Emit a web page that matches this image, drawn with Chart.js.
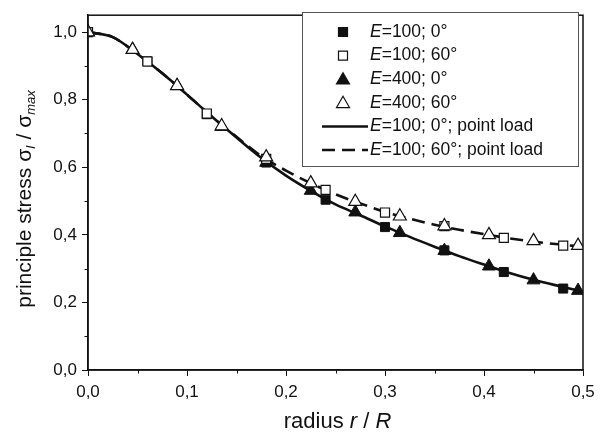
<!DOCTYPE html>
<html>
<head>
<meta charset="utf-8">
<script src="https://cdn.jsdelivr.net/npm/chart.js@4.4.0/dist/chart.umd.min.js"></script>
<style>
  html, body { margin: 0; padding: 0; background: #fff; }
  #stressChart { display: block; }
</style>
</head>
<body>
<canvas id="stressChart" width="606" height="435"></canvas>
<script>
// Data (radius r/R -> normalised principal stress)
const squareX = [0, 0.06, 0.12, 0.18, 0.24, 0.30, 0.36, 0.42, 0.48];
const e100deg0 = [1.0, 0.913, 0.757, 0.614, 0.504, 0.423, 0.354, 0.290, 0.241];
const e100deg60 = [1.0, 0.913, 0.759, 0.625, 0.533, 0.466, 0.426, 0.391, 0.368];

const triangleX = [0, 0.045, 0.09, 0.135, 0.18, 0.225, 0.27, 0.315, 0.36, 0.405, 0.45, 0.495];
const e400deg0 = [1.0, 0.948, 0.841, 0.720, 0.614, 0.531, 0.467, 0.406, 0.353, 0.307, 0.266, 0.235];
const e400deg60 = [1.0, 0.948, 0.841, 0.722, 0.630, 0.553, 0.498, 0.455, 0.426, 0.400, 0.382, 0.368];

const curveX = [0, 0.025, 0.05, 0.075, 0.1, 0.125, 0.15, 0.175, 0.2, 0.225, 0.25, 0.275, 0.3, 0.325, 0.35, 0.375, 0.4, 0.425, 0.45, 0.475, 0.5];
const pointLoad0 = [1.0, 0.985, 0.935, 0.878, 0.815, 0.750, 0.688, 0.628, 0.575, 0.530, 0.490, 0.458, 0.425, 0.394, 0.365, 0.337, 0.312, 0.288, 0.267, 0.249, 0.232];
const pointLoad60 = [1.0, 0.985, 0.935, 0.878, 0.815, 0.750, 0.690, 0.633, 0.590, 0.553, 0.520, 0.493, 0.468, 0.448, 0.430, 0.415, 0.402, 0.390, 0.380, 0.372, 0.365];

const xMinorTicks = [0.05, 0.15, 0.25, 0.35, 0.45];
const yMinorTicks = [0.1, 0.3, 0.5, 0.7, 0.9];

const INK = "#111";
const FONT = "Liberation Sans, Arial, Helvetica, sans-serif";

function toPoints(xs, ys) {
  return xs.map((x, i) => ({ x: x, y: ys[i] }));
}

function commaLabel(v) {
  return Number(v).toFixed(1).replace(".", ",");
}

// Legend rows, the "E" in front is drawn in italics
const legendRows = [
  { label: "=100; 0°", kind: "rect", fill: INK },
  { label: "=100; 60°", kind: "rect", fill: "#fff" },
  { label: "=400; 0°", kind: "triangle", fill: INK },
  { label: "=400; 60°", kind: "triangle", fill: "#fff" },
  { label: "=100; 0°; point load", kind: "solid" },
  { label: "=100; 60°; point load", kind: "dashed" }
];

// Draw a mixed-style text run, pieces = [{t, italic, sub}]
function drawRich(ctx, pieces, x, y, size, align) {
  const widths = pieces.map(p => {
    ctx.font = (p.italic ? "italic " : "") + (p.sub ? size * 0.62 : size) + "px " + FONT;
    return ctx.measureText(p.t).width;
  });
  const total = widths.reduce((a, b) => a + b, 0);
  let cx = align === "center" ? x - total / 2 : x;
  ctx.textBaseline = "middle";
  ctx.textAlign = "left";
  pieces.forEach((p, i) => {
    ctx.font = (p.italic ? "italic " : "") + (p.sub ? size * 0.62 : size) + "px " + FONT;
    ctx.fillText(p.t, cx, p.sub ? y + size * 0.3 : y);
    cx += widths[i];
  });
}

function drawMarker(ctx, kind, x, y, fill) {
  ctx.save();
  ctx.fillStyle = fill;
  ctx.strokeStyle = INK;
  ctx.lineWidth = 1.2;
  ctx.beginPath();
  if (kind === "rect") {
    const s = 4.5;
    ctx.rect(x - s, y - s, 2 * s, 2 * s);
  } else {
    const r = 7.5;
    ctx.moveTo(x, y - r);
    ctx.lineTo(x + Math.sin(2 * Math.PI / 3) * r, y - Math.cos(2 * Math.PI / 3) * r);
    ctx.lineTo(x + Math.sin(4 * Math.PI / 3) * r, y - Math.cos(4 * Math.PI / 3) * r);
    ctx.closePath();
  }
  ctx.fill();
  ctx.stroke();
  ctx.restore();
}

const decorPlugin = {
  id: "decor",
  afterDraw(chart) {
    const ctx = chart.ctx;
    const area = chart.chartArea;
    const xs = chart.scales.x;
    const ys = chart.scales.y;
    ctx.save();

    // frame on top and right
    ctx.strokeStyle = INK;
    ctx.lineWidth = 1.5;
    ctx.strokeRect(area.left, area.top, area.right - area.left, area.bottom - area.top);

    // minor ticks
    ctx.lineWidth = 1;
    ctx.beginPath();
    xMinorTicks.forEach(v => {
      const px = Math.round(xs.getPixelForValue(v)) + 0.5;
      ctx.moveTo(px, area.bottom);
      ctx.lineTo(px, area.bottom + 3.5);
    });
    yMinorTicks.forEach(v => {
      const py = Math.round(ys.getPixelForValue(v)) + 0.5;
      ctx.moveTo(area.left, py);
      ctx.lineTo(area.left - 3.5, py);
    });
    ctx.stroke();

    // axis titles
    ctx.fillStyle = INK;
    drawRich(ctx, [
      { t: "radius " }, { t: "r", italic: true }, { t: " / " }, { t: "R", italic: true }
    ], (area.left + area.right) / 2 + 2, 422, 22, "center");

    ctx.save();
    ctx.translate(25, 199);
    ctx.rotate(-Math.PI / 2);
    drawRich(ctx, [
      { t: "principle stress σ" }, { t: "I", italic: true, sub: true },
      { t: " / σ" }, { t: "max", italic: true, sub: true }
    ], 0, 0, 21, "center");
    ctx.restore();

    // legend box
    const bx = 302, by = 12, bw = 276, bh = 154;
    ctx.fillStyle = "#fff";
    ctx.fillRect(bx, by, bw, bh);
    ctx.strokeStyle = "#555";
    ctx.lineWidth = 1;
    ctx.strokeRect(bx + 0.5, by + 0.5, bw, bh);

    legendRows.forEach((row, i) => {
      const y = 32 + i * 23.6;
      if (row.kind === "rect" || row.kind === "triangle") {
        drawMarker(ctx, row.kind, 343, y + (row.kind === "triangle" ? 1 : 0), row.fill);
      } else {
        ctx.save();
        ctx.strokeStyle = INK;
        ctx.lineWidth = 2.5;
        if (row.kind === "dashed") ctx.setLineDash([13, 7]);
        ctx.beginPath();
        ctx.moveTo(322, y);
        ctx.lineTo(368, y);
        ctx.stroke();
        ctx.restore();
      }
      ctx.fillStyle = INK;
      drawRich(ctx, [{ t: "E", italic: true }, { t: row.label }], 370, y, 17.5, "left");
    });

    ctx.restore();
  }
};

const lineStyle = {
  showLine: true,
  pointRadius: 0,
  borderColor: INK,
  borderWidth: 2.6,
  cubicInterpolationMode: "monotone",
  order: 10
};

new Chart(document.getElementById("stressChart"), {
  type: "scatter",
  data: {
    datasets: [
      { ...lineStyle, label: "E=100; 0°; point load", data: toPoints(curveX, pointLoad0) },
      { ...lineStyle, label: "E=100; 60°; point load", data: toPoints(curveX, pointLoad60), borderDash: [13, 7] },
      {
        label: "E=100; 0°", data: toPoints(squareX, e100deg0), pointStyle: "rect",
        pointRadius: 6.4, backgroundColor: INK, borderColor: INK, borderWidth: 1, order: 5
      },
      {
        label: "E=400; 0°", data: toPoints(triangleX, e400deg0), pointStyle: "triangle",
        pointRadius: 7.5, backgroundColor: INK, borderColor: INK, borderWidth: 1, order: 4
      },
      {
        label: "E=100; 60°", data: toPoints(squareX, e100deg60), pointStyle: "rect",
        pointRadius: 6.4, backgroundColor: "#fff", borderColor: INK, borderWidth: 1.2, order: 2
      },
      {
        label: "E=400; 60°", data: toPoints(triangleX, e400deg60), pointStyle: "triangle",
        pointRadius: 7.5, backgroundColor: "#fff", borderColor: INK, borderWidth: 1.2, order: 1
      }
    ]
  },
  options: {
    responsive: false,
    animation: false,
    devicePixelRatio: 1,
    layout: { padding: { left: 0, right: 23, top: 8, bottom: 0 } },
    plugins: {
      legend: { display: false },
      tooltip: { enabled: false }
    },
    scales: {
      x: {
        type: "linear",
        min: 0,
        max: 0.5,
        afterFit: s => { s.height = 65; },
        border: { display: true, color: INK, width: 1.5 },
        grid: { drawOnChartArea: false, drawTicks: true, tickLength: 6, color: INK, tickColor: INK },
        ticks: {
          stepSize: 0.1,
          includeBounds: false,
          padding: 6,
          color: INK,
          font: { family: FONT, size: 17 },
          callback: v => commaLabel(v)
        }
      },
      y: {
        type: "linear",
        min: 0,
        max: 1.05,
        afterFit: s => { s.width = 88; },
        border: { display: true, color: INK, width: 1.5 },
        grid: { drawOnChartArea: false, drawTicks: true, tickLength: 6, color: INK, tickColor: INK },
        ticks: {
          stepSize: 0.2,
          includeBounds: false,
          padding: 5,
          color: INK,
          font: { family: FONT, size: 17 },
          callback: v => commaLabel(v)
        }
      }
    }
  },
  plugins: [decorPlugin]
});
</script>
</body>
</html>
